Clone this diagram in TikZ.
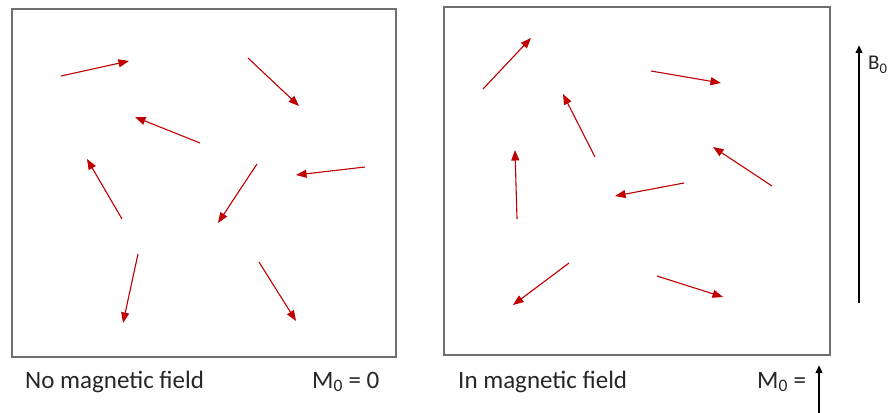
\documentclass[tikz,border=0pt]{standalone}
\usepackage{fontspec}
\setmainfont{Carlito}
\usetikzlibrary{arrows.meta}
\definecolor{spinred}{HTML}{C00000}
\definecolor{boxgray}{HTML}{6E6E6E}
\begin{document}
\begin{tikzpicture}[x=1pt,y=-1pt,
  spin/.style={draw=spinred,line width=1.1pt,-{Triangle[length=10.5pt,width=8pt]},spinred},
  panel/.style={draw=boxgray,line width=1.4pt},
  field/.style={draw=black,line width=2.2pt,-{Triangle[length=8pt,width=6.5pt]}},
  lbl/.style={font=\fontsize{25}{28}\selectfont,anchor=base west,inner sep=0pt,text=black!85}]
\useasboundingbox (0,0) rectangle (890,412);
% panels
\draw[panel] (12,9) rectangle (396,357);
\draw[panel] (444,7) rectangle (830,355);
% left panel spins
\draw[spin] (61,76) -- (129,61);
\draw[spin] (248,58) -- (299,106);
\draw[spin] (200,143) -- (135,117);
\draw[spin] (122,219) -- (87,159);
\draw[spin] (257,164) -- (218,223);
\draw[spin] (365,167) -- (296,175);
\draw[spin] (138,254) -- (123,323);
\draw[spin] (259,262) -- (296,321);
% right panel spins
\draw[spin] (483,89) -- (531,38);
\draw[spin] (651,71) -- (721,83);
\draw[spin] (595,157) -- (563,94);
\draw[spin] (517,219) -- (515,150);
\draw[spin] (772,186) -- (713,147);
\draw[spin] (684,183) -- (615,196);
\draw[spin] (569,263) -- (513,305);
\draw[spin] (657,276) -- (723,297);
% field arrow
\coordinate (b0s) at (859,303);
\coordinate (b0e) at (859,45);
\draw[field] (b0s) -- (b0e);
\node[lbl,font=\fontsize{21}{24}\selectfont] (b0) at (868,70) {B\textsubscript{0}};
% labels
\node[lbl] (nofield) at (25,388) {No magnetic field};
\node[lbl] (mzero) at (312,388) {M\textsubscript{0} = 0};
\node[lbl] (infield) at (458,388) {In magnetic field};
\node[lbl] (mnet) at (757,388) {M\textsubscript{0} =};
\coordinate (ms) at (819,414);
\coordinate (me) at (819,365);
\draw[field] (ms) -- (me);
\end{tikzpicture}
\end{document}
